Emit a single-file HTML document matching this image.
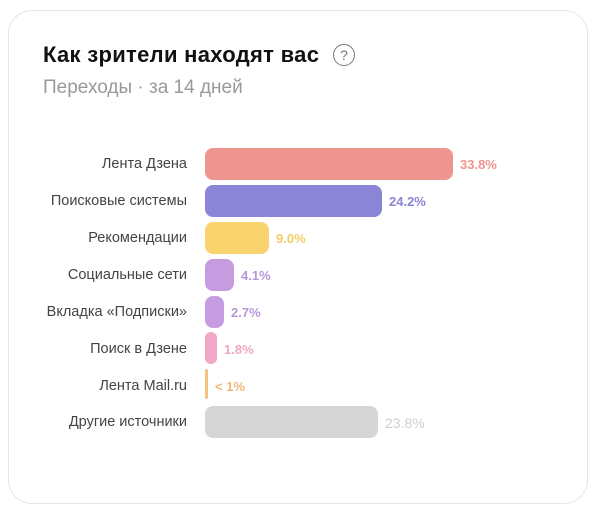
<!DOCTYPE html>
<html><head><meta charset="utf-8"><style>
body{margin:0;width:600px;height:517px;background:#fff;font-family:"Liberation Sans",sans-serif;position:relative;overflow:hidden}
.card{position:absolute;left:8px;top:10px;width:580px;height:494px;border:1.5px solid #e6e6e6;border-radius:24px;box-sizing:border-box}
.t{position:absolute;left:43px;top:42px;font-size:22px;font-weight:bold;color:#111;letter-spacing:0.3px}
.q{position:absolute;left:333px;top:44px;width:20px;height:20px;border:1.5px solid #777;border-radius:50%;font-size:14px;color:#777;text-align:center;line-height:20px}
.s{position:absolute;left:43px;top:77px;font-size:19px;color:#999}
.l{position:absolute;right:413px;font-size:14.5px;color:#444;text-align:right;white-space:nowrap}
.b{position:absolute;left:205px;height:32px;border-radius:8px}
.v{position:absolute;font-size:13px;font-weight:bold}
</style></head><body>
<div class="card"></div>
<div class="t">Как зрители находят вас</div><div class="q">?</div>
<div class="s">Переходы · за 14 дней</div>

<div class="l" style="top:156px">Лента Дзена</div>
<div class="b" style="top:148px;width:248px;background:#ee958f"></div>
<div class="v" style="left:460px;top:157px;color:#ee958f">33.8%</div>

<div class="l" style="top:193px">Поисковые системы</div>
<div class="b" style="top:185px;width:177px;background:#8a85d6"></div>
<div class="v" style="left:389px;top:194px;color:#8a85d6">24.2%</div>

<div class="l" style="top:230px">Рекомендации</div>
<div class="b" style="top:222px;width:64px;background:#f9d46e"></div>
<div class="v" style="left:276px;top:231px;color:#f5cc66">9.0%</div>

<div class="l" style="top:267px">Социальные сети</div>
<div class="b" style="top:259px;width:29px;background:#c59ce0"></div>
<div class="v" style="left:241px;top:268px;color:#b996d9">4.1%</div>

<div class="l" style="top:304px">Вкладка «Подписки»</div>
<div class="b" style="top:296px;width:19px;background:#c59ce0"></div>
<div class="v" style="left:231px;top:305px;color:#b996d9">2.7%</div>

<div class="l" style="top:341px">Поиск в Дзене</div>
<div class="b" style="top:332px;width:12px;background:#f0a8c6"></div>
<div class="v" style="left:224px;top:342px;color:#eea8c4">1.8%</div>

<div class="l" style="top:378px">Лента Mail.ru</div>
<div class="b" style="top:369px;width:3px;height:30px;border-radius:2px;background:#f3c17e"></div>
<div class="v" style="left:215px;top:379px;color:#f0b877">&lt; 1%</div>

<div class="l" style="top:414px">Другие источники</div>
<div class="b" style="top:406px;width:173px;background:#d6d6d6"></div>
<div class="v" style="left:385px;top:415px;color:#cfcfcf;font-weight:normal;font-size:14px">23.8%</div>
</body></html>
